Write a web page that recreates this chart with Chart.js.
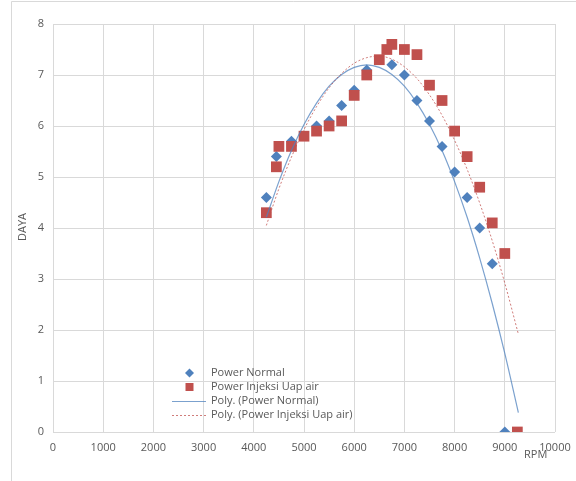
<!DOCTYPE html>
<html>
<head>
<meta charset="utf-8">
<script src="https://cdn.jsdelivr.net/npm/chart.js@4.4.1/dist/chart.umd.min.js"></script>
<style>
  html, body { margin: 0; padding: 0; background: #fff; }
  canvas { display: block; }
</style>
</head>
<body>
<canvas id="chart-daya" width="576" height="481"></canvas>
<script>
// measured power, normal run
const normalRpm = [4250, 4450, 4750, 5250, 5500, 5750, 6000, 6250, 6750, 7000, 7250, 7500, 7750, 8000, 8250, 8500, 8750, 9000];
const normalPower = [4.6, 5.4, 5.7, 6.0, 6.1, 6.4, 6.7, 7.1, 7.2, 7.0, 6.5, 6.1, 5.6, 5.1, 4.6, 4.0, 3.3, 0];

// measured power with steam injection
const injeksiRpm = [4250, 4450, 4500, 4750, 5000, 5250, 5500, 5750, 6000, 6250, 6500, 6650, 6750, 7000, 7250, 7500, 7750, 8000, 8250, 8500, 8750, 9000, 9250];
const injeksiPower = [4.3, 5.2, 5.6, 5.6, 5.8, 5.9, 6.0, 6.1, 6.6, 7.0, 7.3, 7.5, 7.6, 7.5, 7.4, 6.8, 6.5, 5.9, 5.4, 4.8, 4.1, 3.5, 0];

// poly trendlines, sampled along the rpm range
const trendRpm = [4250, 4500, 4750, 5000, 5250, 5500, 5750, 6000, 6250, 6500, 6750, 7000, 7250, 7500, 7750, 8000, 8250, 8500, 8750, 9000, 9270];
const trendNormal = [4.21, 4.91, 5.52, 6.03, 6.45, 6.78, 7.01, 7.15, 7.2, 7.15, 7.01, 6.78, 6.45, 6.03, 5.52, 4.91, 4.21, 3.41, 2.52, 1.54, 0.38];
const trendInjeksi = [4.05, 4.77, 5.39, 5.93, 6.38, 6.75, 7.03, 7.23, 7.34, 7.37, 7.31, 7.16, 6.93, 6.61, 6.21, 5.72, 5.15, 4.49, 3.75, 2.92, 1.92];

const xTicks = [0, 1000, 2000, 3000, 4000, 5000, 6000, 7000, 8000, 9000, 10000];
const yTicks = [0, 1, 2, 3, 4, 5, 6, 7, 8];

const BLUE = '#4f81bd';
const RED = '#c0504d';
const TEXT = '#595959';
const GRID = '#d9d9d9';
const FONT = "'Open Sans', sans-serif";

const toPoints = (xs, ys) => xs.map((x, i) => ({ x, y: ys[i] }));

// frame, axis titles and the legend box inside the plot
const decorPlugin = {
  id: 'decor',
  beforeDraw(chart) {
    const { ctx, width, height } = chart;
    ctx.save();
    ctx.fillStyle = '#fff';
    ctx.fillRect(0, 0, width, height);
    ctx.strokeStyle = GRID;
    ctx.lineWidth = 1;
    ctx.beginPath();
    ctx.moveTo(11.5, height);
    ctx.lineTo(11.5, 1.5);
    ctx.lineTo(width, 1.5);
    ctx.stroke();
    ctx.restore();
  },
  afterDraw(chart) {
    const { ctx } = chart;
    ctx.save();
    ctx.fillStyle = TEXT;
    ctx.font = `11px ${FONT}`;
    ctx.textBaseline = 'middle';

    ctx.textAlign = 'left';
    ctx.fillText('RPM', 524, 455);

    ctx.save();
    ctx.translate(23, 227);
    ctx.rotate(-Math.PI / 2);
    ctx.textAlign = 'center';
    ctx.fillText('DAYA', 0, 0);
    ctx.restore();

    const rows = [373, 387, 401, 415];
    chart.data.datasets.forEach((ds, i) => {
      const y = rows[i];
      if (ds.showLine) {
        ctx.save();
        ctx.strokeStyle = ds.borderColor;
        ctx.lineWidth = ds.borderWidth;
        ctx.setLineDash(ds.borderDash || []);
        ctx.beginPath();
        ctx.moveTo(172, y + 0.5);
        ctx.lineTo(206, y + 0.5);
        ctx.stroke();
        ctx.restore();
      } else {
        ctx.save();
        ctx.fillStyle = ds.backgroundColor;
        ctx.beginPath();
        if (ds.pointStyle === 'rectRot') {
          ctx.moveTo(189.5, y - 4.5);
          ctx.lineTo(194, y);
          ctx.lineTo(189.5, y + 4.5);
          ctx.lineTo(185, y);
        } else {
          ctx.rect(185.5, y - 4, 8, 8);
        }
        ctx.fill();
        ctx.restore();
      }
      ctx.fillStyle = TEXT;
      ctx.textAlign = 'left';
      ctx.fillText(ds.label, 211, y);
    });
    ctx.restore();
  },
};

const ctx = document.getElementById('chart-daya').getContext('2d');
new Chart(ctx, {
  type: 'scatter',
  data: {
    datasets: [
      {
        label: 'Power Normal',
        data: toPoints(normalRpm, normalPower),
        pointStyle: 'rectRot',
        pointRadius: 5.5,
        backgroundColor: BLUE,
        borderColor: BLUE,
        borderWidth: 0,
        showLine: false,
        order: 4,
      },
      {
        label: 'Power Injeksi Uap air',
        data: toPoints(injeksiRpm, injeksiPower),
        pointStyle: 'rect',
        pointRadius: 7.6,
        backgroundColor: RED,
        borderColor: RED,
        borderWidth: 0,
        showLine: false,
        order: 3,
      },
      {
        label: 'Poly. (Power Normal)',
        data: toPoints(trendRpm, trendNormal),
        showLine: true,
        pointRadius: 0,
        borderColor: 'rgba(79,129,189,.75)',
        borderWidth: 1.2,
        tension: 0.4,
        cubicInterpolationMode: 'monotone',
        order: 2,
      },
      {
        label: 'Poly. (Power Injeksi Uap air)',
        data: toPoints(trendRpm, trendInjeksi),
        showLine: true,
        pointRadius: 0,
        borderColor: 'rgba(192,80,77,.75)',
        borderWidth: 1,
        borderDash: [2, 2],
        tension: 0.4,
        cubicInterpolationMode: 'monotone',
        order: 1,
      },
    ],
  },
  options: {
    responsive: false,
    animation: false,
    devicePixelRatio: 1,
    layout: { padding: { top: 24, right: 21, left: 0, bottom: 0 } },
    plugins: {
      legend: { display: false },
      tooltip: { enabled: false },
    },
    scales: {
      x: {
        type: 'linear',
        min: 0,
        max: 10000,
        afterBuildTicks: scale => { scale.ticks = xTicks.map(value => ({ value })); },
        afterFit: scale => {
          scale.height = 49;
          scale.paddingLeft = 0;
          scale.paddingRight = 0;
        },
        border: { display: false },
        grid: { color: GRID, drawTicks: false },
        ticks: {
          color: TEXT,
          font: { family: FONT, size: 11 },
          padding: 9,
          maxRotation: 0,
          callback: value => String(value),
        },
      },
      y: {
        min: 0,
        max: 8,
        afterBuildTicks: scale => { scale.ticks = yTicks.map(value => ({ value })); },
        afterFit: scale => {
          scale.width = 53;
          scale.paddingTop = 0;
          scale.paddingBottom = 0;
        },
        border: { display: false },
        grid: { color: GRID, drawTicks: false },
        ticks: {
          color: TEXT,
          font: { family: FONT, size: 11 },
          padding: 9,
          callback: value => String(value),
        },
      },
    },
  },
  plugins: [decorPlugin],
});
</script>
</body>
</html>
